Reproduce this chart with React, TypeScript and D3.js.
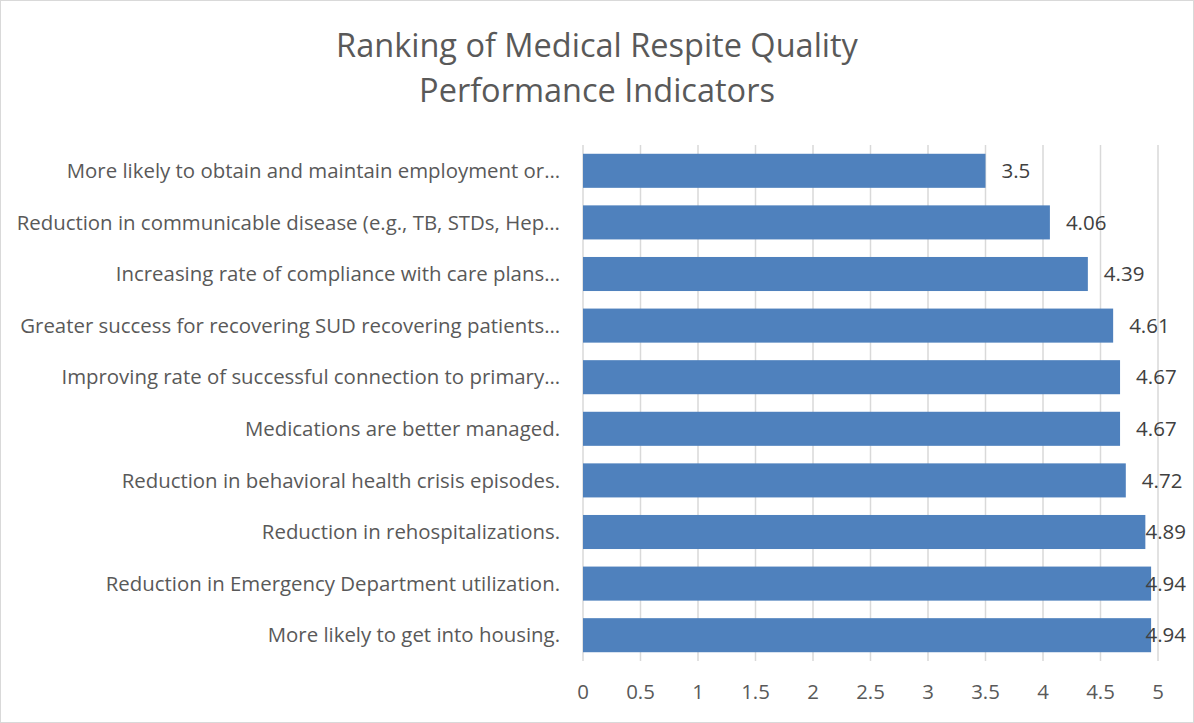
import { useEffect, useRef } from "react";
import * as d3 from "d3";

const categories = [
  "More likely to obtain and maintain employment or…",
  "Reduction in communicable disease (e.g., TB, STDs, Hep…",
  "Increasing rate of compliance with care plans…",
  "Greater success for recovering SUD recovering patients…",
  "Improving rate of successful connection to primary…",
  "Medications are better managed.",
  "Reduction in behavioral health crisis episodes.",
  "Reduction in rehospitalizations.",
  "Reduction in Emergency Department utilization.",
  "More likely to get into housing.",
];
const values = [3.5, 4.06, 4.39, 4.61, 4.67, 4.67, 4.72, 4.89, 4.94, 4.94];
const ticks = [0, 0.5, 1, 1.5, 2, 2.5, 3, 3.5, 4, 4.5, 5];
const titleLines = ["Ranking of Medical Respite Quality", "Performance Indicators"];

const W = 1194;
const H = 723;
const FONT = "'Open Sans', sans-serif";

const App = () => {
  const svgRef = useRef<SVGSVGElement>(null);

  useEffect(() => {
    if (!svgRef.current) return;
    const svg = d3.select(svgRef.current);
    svg.selectAll("*").remove();

    const margin = { top: 145, bottom: 62, left: 583, right: 36 };

    const x = d3.scaleLinear().domain([0, 5]).range([margin.left, W - margin.right]);
    const y = d3
      .scaleBand()
      .domain(categories)
      .range([margin.top, H - margin.bottom])
      .paddingInner(0.34)
      .paddingOuter(0.17);

    svg
      .append("rect")
      .attr("x", 0.5)
      .attr("y", 0.5)
      .attr("width", W - 1)
      .attr("height", H - 1)
      .attr("fill", "#fff")
      .attr("stroke", "#d9d9d9");

    svg
      .append("g")
      .selectAll("text")
      .data(titleLines)
      .join("text")
      .attr("x", 597)
      .attr("y", (d, i) => 57 + i * 45)
      .attr("text-anchor", "middle")
      .attr("font-family", FONT)
      .attr("font-size", 32.5)
      .attr("fill", "#595959")
      .text((d) => d);

    // gridlines
    svg
      .append("g")
      .selectAll("line")
      .data(ticks)
      .join("line")
      .attr("x1", (d) => x(d))
      .attr("x2", (d) => x(d))
      .attr("y1", margin.top)
      .attr("y2", H - margin.bottom)
      .attr("stroke", "#d9d9d9")
      .attr("stroke-width", 1.5);

    svg
      .append("g")
      .selectAll("rect")
      .data(values)
      .join("rect")
      .attr("x", x(0))
      .attr("y", (d, i) => y(categories[i])!)
      .attr("width", (d) => x(d) - x(0))
      .attr("height", y.bandwidth())
      .attr("fill", "#4f81bd");

    // value labels, kept inside the chart's right edge
    svg
      .append("g")
      .selectAll("text")
      .data(values)
      .join("text")
      .attr("x", (d) => x(d) + 16)
      .attr("y", (d, i) => y(categories[i])! + y.bandwidth() / 2)
      .attr("dy", "0.35em")
      .attr("font-family", FONT)
      .attr("font-size", 20.5)
      .attr("fill", "#404040")
      .text((d) => String(d))
      .each(function (d) {
        const el = this as SVGTextElement;
        const w = el.getComputedTextLength();
        const x0 = Math.min(x(d) + 16, 1186 - w);
        el.setAttribute("x", String(x0));
      });

    // category labels
    svg
      .append("g")
      .selectAll("text")
      .data(categories)
      .join("text")
      .attr("x", 560)
      .attr("y", (d) => y(d)! + y.bandwidth() / 2)
      .attr("dy", "0.35em")
      .attr("text-anchor", "end")
      .attr("font-family", FONT)
      .attr("font-size", 20.4)
      .attr("fill", "#595959")
      .text((d) => d);

    // x tick labels
    svg
      .append("g")
      .selectAll("text")
      .data(ticks)
      .join("text")
      .attr("x", (d) => x(d))
      .attr("y", 692)
      .attr("dy", "0.35em")
      .attr("text-anchor", "middle")
      .attr("font-family", FONT)
      .attr("font-size", 20.4)
      .attr("fill", "#595959")
      .text((d) => String(d));
  }, []);

  return (
    <div style={{ position: "absolute", left: 0, top: 0 }}>
      <svg ref={svgRef} width={W} height={H} style={{ display: "block" }} />
    </div>
  );
};

export default App;
